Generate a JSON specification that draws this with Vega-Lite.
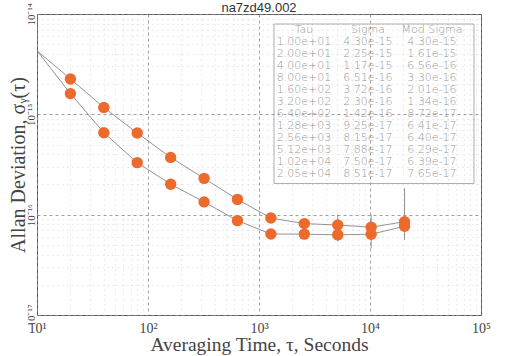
{
  "$schema": "https://vega.github.io/schema/vega-lite/v6.json",
  "width": 444,
  "height": 301,
  "autosize": {"type": "none"},
  "padding": {"left": 37, "top": 14, "right": 25, "bottom": 41},
  "background": "white",
  "title": {"text": "na7zd49.002", "font": "Liberation Sans", "fontSize": 13, "fontWeight": "normal", "color": "#333", "baseline": "bottom", "offset": 0, "dy": 25},
  "config": {
    "view": {"stroke": "#555", "strokeWidth": 1},
    "axis": {"domain": false}
  },
  "datasets": {
    "adev": [
      {"tau": 10, "kind": "Sigma", "dev": 4.30e-15},
      {"tau": 20, "kind": "Sigma", "dev": 2.25e-15},
      {"tau": 40, "kind": "Sigma", "dev": 1.17e-15},
      {"tau": 80, "kind": "Sigma", "dev": 6.51e-16},
      {"tau": 160, "kind": "Sigma", "dev": 3.72e-16},
      {"tau": 320, "kind": "Sigma", "dev": 2.30e-16},
      {"tau": 640, "kind": "Sigma", "dev": 1.42e-16},
      {"tau": 1280, "kind": "Sigma", "dev": 9.25e-17},
      {"tau": 2560, "kind": "Sigma", "dev": 8.15e-17},
      {"tau": 5120, "kind": "Sigma", "dev": 7.88e-17},
      {"tau": 10240, "kind": "Sigma", "dev": 7.50e-17},
      {"tau": 20480, "kind": "Sigma", "dev": 8.51e-17},
      {"tau": 10, "kind": "Mod Sigma", "dev": 4.30e-15},
      {"tau": 20, "kind": "Mod Sigma", "dev": 1.61e-15},
      {"tau": 40, "kind": "Mod Sigma", "dev": 6.56e-16},
      {"tau": 80, "kind": "Mod Sigma", "dev": 3.30e-16},
      {"tau": 160, "kind": "Mod Sigma", "dev": 2.01e-16},
      {"tau": 320, "kind": "Mod Sigma", "dev": 1.34e-16},
      {"tau": 640, "kind": "Mod Sigma", "dev": 8.72e-17},
      {"tau": 1280, "kind": "Mod Sigma", "dev": 6.41e-17},
      {"tau": 2560, "kind": "Mod Sigma", "dev": 6.40e-17},
      {"tau": 5120, "kind": "Mod Sigma", "dev": 6.29e-17},
      {"tau": 10240, "kind": "Mod Sigma", "dev": 6.39e-17},
      {"tau": 20480, "kind": "Mod Sigma", "dev": 7.65e-17}
    ],
    "errs": [
      {"tau": 5120, "lo": 5.4e-17, "hi": 1.0e-16},
      {"tau": 10240, "lo": 4.6e-17, "hi": 1.0e-16},
      {"tau": 20480, "lo": 5.6e-17, "hi": 1.84e-16}
    ],
    "table": [
      {"row": 0, "col": 0, "text": "Tau"}, {"row": 0, "col": 1, "text": "Sigma"}, {"row": 0, "col": 2, "text": "Mod Sigma"},
      {"row": 1, "col": 0, "text": "1.00e+01"}, {"row": 1, "col": 1, "text": "4.30e-15"}, {"row": 1, "col": 2, "text": "4.30e-15"},
      {"row": 2, "col": 0, "text": "2.00e+01"}, {"row": 2, "col": 1, "text": "2.25e-15"}, {"row": 2, "col": 2, "text": "1.61e-15"},
      {"row": 3, "col": 0, "text": "4.00e+01"}, {"row": 3, "col": 1, "text": "1.17e-15"}, {"row": 3, "col": 2, "text": "6.56e-16"},
      {"row": 4, "col": 0, "text": "8.00e+01"}, {"row": 4, "col": 1, "text": "6.51e-16"}, {"row": 4, "col": 2, "text": "3.30e-16"},
      {"row": 5, "col": 0, "text": "1.60e+02"}, {"row": 5, "col": 1, "text": "3.72e-16"}, {"row": 5, "col": 2, "text": "2.01e-16"},
      {"row": 6, "col": 0, "text": "3.20e+02"}, {"row": 6, "col": 1, "text": "2.30e-16"}, {"row": 6, "col": 2, "text": "1.34e-16"},
      {"row": 7, "col": 0, "text": "6.40e+02"}, {"row": 7, "col": 1, "text": "1.42e-16"}, {"row": 7, "col": 2, "text": "8.72e-17"},
      {"row": 8, "col": 0, "text": "1.28e+03"}, {"row": 8, "col": 1, "text": "9.25e-17"}, {"row": 8, "col": 2, "text": "6.41e-17"},
      {"row": 9, "col": 0, "text": "2.56e+03"}, {"row": 9, "col": 1, "text": "8.15e-17"}, {"row": 9, "col": 2, "text": "6.40e-17"},
      {"row": 10, "col": 0, "text": "5.12e+03"}, {"row": 10, "col": 1, "text": "7.88e-17"}, {"row": 10, "col": 2, "text": "6.29e-17"},
      {"row": 11, "col": 0, "text": "1.02e+04"}, {"row": 11, "col": 1, "text": "7.50e-17"}, {"row": 11, "col": 2, "text": "6.39e-17"},
      {"row": 12, "col": 0, "text": "2.05e+04"}, {"row": 12, "col": 1, "text": "8.51e-17"}, {"row": 12, "col": 2, "text": "7.65e-17"}
    ]
  },
  "layer": [
    {
      "layer": [
        {
          "data": {"name": "adev"},
          "mark": {"type": "line", "color": "#777", "strokeWidth": 0.8, "clip": true},
          "encoding": {
            "x": {
              "field": "tau", "type": "quantitative",
              "scale": {"type": "log", "domain": [10, 100000], "nice": false},
              "axis": {
                "values": [10,20,30,40,50,60,70,80,90,100,200,300,400,500,600,700,800,900,1000,2000,3000,4000,5000,6000,7000,8000,9000,10000,20000,30000,40000,50000,60000,70000,80000,90000,100000],
                "labelExpr": "datum.value == 10 ? '10¹' : datum.value == 100 ? '10²' : datum.value == 1000 ? '10³' : datum.value == 10000 ? '10⁴' : datum.value == 100000 ? '10⁵' : ''",
                "labelOverlap": false, "labelFlush": false,
                "labelFont": "Liberation Serif", "labelFontSize": 14, "labelColor": "#444", "labelPadding": 6,
                "ticks": false,
                "title": "Averaging Time, τ, Seconds", "titleFont": "Liberation Serif", "titleFontSize": 19.5, "titleFontWeight": "normal", "titleColor": "#444", "titlePadding": 0,
                "grid": true,
                "gridColor": {"condition": {"test": "abs(log(datum.value)/LN10 - round(log(datum.value)/LN10)) < 0.000001", "value": "#888"}, "value": "#ccc"},
                "gridDash": {"condition": {"test": "abs(log(datum.value)/LN10 - round(log(datum.value)/LN10)) < 0.000001", "value": [3, 3]}, "value": [1, 4]},
                "gridWidth": 0.8
              }
            },
            "y": {
              "field": "dev", "type": "quantitative",
              "scale": {"type": "log", "domain": [1e-17, 1e-14], "nice": false},
              "axis": {
                "values": [1e-17,2e-17,3e-17,4e-17,5e-17,6e-17,7e-17,8e-17,9e-17,1e-16,2e-16,3e-16,4e-16,5e-16,6e-16,7e-16,8e-16,9e-16,1e-15,2e-15,3e-15,4e-15,5e-15,6e-15,7e-15,8e-15,9e-15,1e-14],
                "labelExpr": "abs(log(datum.value)/LN10 - round(log(datum.value)/LN10)) < 0.000001 ? (round(log(datum.value)/LN10) == -17 ? '10⁻¹⁷' : round(log(datum.value)/LN10) == -16 ? '10⁻¹⁶' : round(log(datum.value)/LN10) == -15 ? '10⁻¹⁵' : '10⁻¹⁴') : ''",
                "labelOverlap": false, "labelFlush": false,
                "labelAngle": 270, "labelAlign": "center", "labelBaseline": "middle",
                "labelFont": "Liberation Serif", "labelFontSize": 11, "labelColor": "#444", "labelPadding": 6,
                "ticks": false,
                "title": "Allan Deviation, σᵧ(τ)", "titleFont": "Liberation Serif", "titleFontSize": 20, "titleFontWeight": "normal", "titleColor": "#444", "titlePadding": -3,
                "grid": true,
                "gridColor": {"condition": {"test": "abs(log(datum.value)/LN10 - round(log(datum.value)/LN10)) < 0.000001", "value": "#888"}, "value": "#ccc"},
                "gridDash": {"condition": {"test": "abs(log(datum.value)/LN10 - round(log(datum.value)/LN10)) < 0.000001", "value": [3, 3]}, "value": [1, 4]},
                "gridWidth": 0.8
              }
            },
            "detail": {"field": "kind"}
          }
        },
        {
          "data": {"name": "errs"},
          "mark": {"type": "rule", "color": "#777", "strokeWidth": 0.8},
          "encoding": {
            "x": {"field": "tau", "type": "quantitative"},
            "y": {"field": "lo", "type": "quantitative"},
            "y2": {"field": "hi"}
          }
        },
        {
          "data": {"name": "adev"},
          "transform": [{"filter": "datum.tau > 10"}],
          "mark": {"type": "circle", "color": "#EC6A2C", "opacity": 1, "size": 130},
          "encoding": {
            "x": {"field": "tau", "type": "quantitative"},
            "y": {"field": "dev", "type": "quantitative"}
          }
        }
      ]
    },
    {
      "data": {"name": "table"},
      "layer": [
        {
          "mark": {"type": "rect", "fill": null, "stroke": "#999", "strokeWidth": 0.8, "xOffset": -30, "x2Offset": 42, "yOffset": -6, "y2Offset": 9},
          "encoding": {
            "x": {"aggregate": "min", "field": "col", "type": "quantitative", "scale": {"domain": [-4.172, 2.766], "nice": false, "zero": false}, "axis": null},
            "x2": {"aggregate": "max", "field": "col"},
            "y": {"aggregate": "min", "field": "row", "type": "quantitative", "scale": {"domain": [-1.33, 23.67], "nice": false, "zero": false, "reverse": true}, "axis": null},
            "y2": {"aggregate": "max", "field": "row"}
          }
        },
        {
          "mark": {"type": "text", "font": "DejaVu Sans", "fontSize": 11, "fontWeight": 300, "color": "#999", "align": "center", "baseline": "middle"},
          "encoding": {
            "x": {"field": "col", "type": "quantitative", "axis": null},
            "y": {"field": "row", "type": "quantitative", "axis": null},
            "text": {"field": "text"}
          }
        }
      ]
    }
  ],
  "resolve": {"scale": {"x": "independent", "y": "independent"}, "axis": {"x": "independent", "y": "independent"}}
}
